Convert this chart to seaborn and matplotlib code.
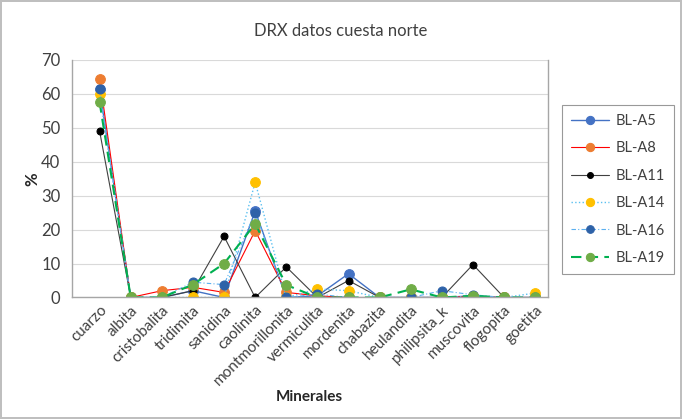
import numpy as np
import pandas as pd
import seaborn as sns
from matplotlib import pyplot as plt

# minerales (eje x)
minerales = ['cuarzo', 'albita', 'cristobalita', 'tridimita', 'sanidina', 'caolinita',
             'montmorillonita', 'vermiculita', 'mordenita', 'chabazita', 'heulandita',
             'philipsita_k', 'muscovita', 'flogopita', 'goetita']

# % por muestra
bl_a5 = [61.5, 0, 0, 2.0, 0, 25.5, 0, 0.5, 7.0, 0, 0, 0, 0.5, 0, 0]
bl_a8 = [64.5, 0, 2.0, 3.0, 1.5, 19.7, 1.5, 0.5, 0, 0, 0, 0, 0.3, 0, 0]
bl_a11 = [49.0, 0, 0, 2.0, 18.0, 0, 9.0, 0, 5.0, 0, 0, 0, 9.7, 0, 0]
bl_a14 = [60.0, 0, 0, 0, 0, 34.0, 0, 2.5, 2.0, 0, 0, 0, 0.3, 0, 1.3]
bl_a16 = [61.3, 0, 0, 4.5, 3.8, 25.0, 0, 1.0, 0, 0, 0, 2.0, 0.8, 0, 0]
bl_a19 = [57.5, 0, 0, 3.8, 10.0, 21.7, 3.7, 0, 0, 0, 2.4, 0, 0.5, 0, 0]

series = {'BL-A5': bl_a5, 'BL-A8': bl_a8, 'BL-A11': bl_a11,
          'BL-A14': bl_a14, 'BL-A16': bl_a16, 'BL-A19': bl_a19}

# estilo: color de linea, color de marcador, tipo de linea, ancho, tamaño marcador
estilos = {
    'BL-A5': ('#4472C4', '#4472C4', '-', 1.0, 7),
    'BL-A8': ('#FF0000', '#ED7D31', '-', 0.8, 7),
    'BL-A11': ('#404040', '#000000', '-', 0.8, 5),
    'BL-A14': ('#5BC0F0', '#FFC000', ':', 1.0, 7),
    'BL-A16': ('#5BB0F0', '#2E62A8', (0, (4, 2, 1, 2)), 0.8, 6.5),
    'BL-A19': ('#00B050', '#70AD47', (0, (5, 3)), 1.5, 7),
}

sns.set_style('white')
plt.rcParams['font.family'] = ['Lato', 'DejaVu Sans']

fig = plt.figure(figsize=(6.82, 4.19), dpi=100)
fig.patch.set_edgecolor('#BFBFBF')
fig.patch.set_linewidth(1.5)
ax = fig.add_axes([0.105, 0.29, 0.698, 0.567])

for nombre, vals in series.items():
    lc, mc, ls, lw, ms = estilos[nombre]
    df = pd.DataFrame({'mineral': minerales, 'pct': vals})
    sns.lineplot(data=df, x='mineral', y='pct', ax=ax, sort=False, color=lc,
                 linestyle=ls, linewidth=lw, marker='o', markersize=ms,
                 markerfacecolor=mc, markeredgecolor=mc, label=nombre)

ax.set_ylim(0, 70)
ax.set_yticks(np.arange(0, 71, 10))
ax.set_xlim(-0.9, len(minerales) - 0.6)
ax.grid(axis='y', color='#D9D9D9', linewidth=0.8)
ax.set_axisbelow(True)
ax.spines['top'].set_visible(False)
for s in ['left', 'bottom', 'right']:
    ax.spines[s].set_color('#A6A6A6')
    ax.spines[s].set_linewidth(1.0)

ax.tick_params(axis='y', labelsize=12, colors='#404040', length=0, pad=8)
ax.tick_params(axis='x', labelsize=11, colors='#404040', length=0, pad=4)
plt.setp(ax.get_xticklabels(), rotation=45, ha='right', rotation_mode='anchor')

ax.set_xlabel('Minerales', fontsize=11, fontweight='bold')
ax.xaxis.set_label_coords(0.5, -0.39)
ax.set_ylabel('%', fontsize=12, fontweight='bold')
ax.yaxis.set_label_coords(-0.065, 0.5)
fig.text(0.5, 0.925, 'DRX datos cuesta norte', ha='center', va='center',
         fontsize=12, color='#404040')

leg = ax.legend(loc='center left', bbox_to_anchor=(1.015, 0.455), fontsize=10.5,
                frameon=True, fancybox=False, handlelength=2.6, labelspacing=0.92,
                borderpad=0.6, handletextpad=0.5, markerscale=0.85)
leg.get_frame().set_edgecolor('#808080')
leg.get_frame().set_linewidth(0.8)
for t in leg.get_texts():
    t.set_color('#404040')

fig.savefig('out.png', dpi=100)
